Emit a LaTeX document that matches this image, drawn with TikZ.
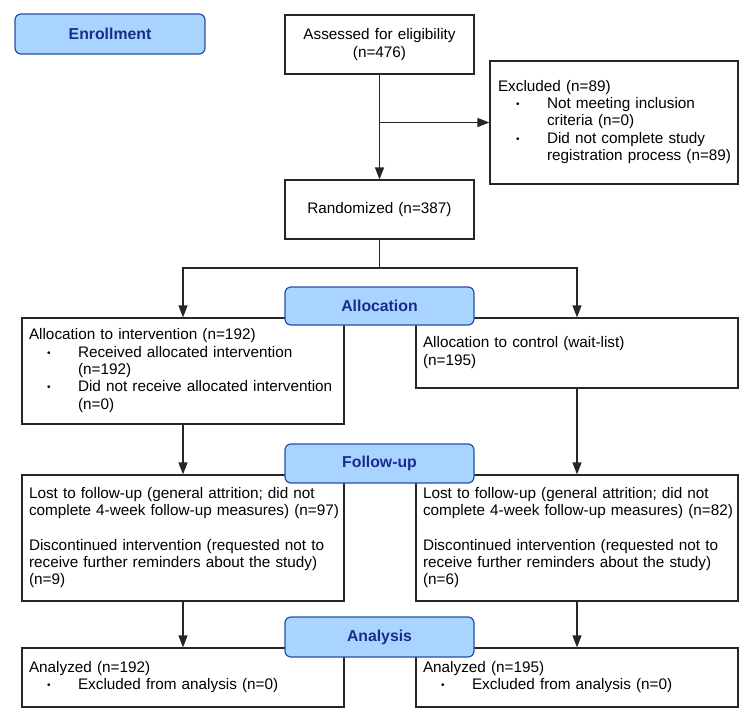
\documentclass[tikz,border=0pt]{standalone}
\usepackage{fontspec}
\setmainfont{Liberation Sans}
\usetikzlibrary{arrows.meta}

\definecolor{headfill}{RGB}{168,212,255}
\definecolor{headdraw}{RGB}{38,78,168}
\definecolor{headtext}{RGB}{28,44,140}

% bullet and hanging indent for the list lines
\newcommand{\bul}{\hspace*{18pt}\makebox[31pt][l]{\raisebox{1pt}{\fontsize{10}{10}\selectfont\textbullet}}}
\newcommand{\bulind}{\hspace*{49pt}}

\tikzset{
  txt/.style={font=\fontsize{15.3}{17.3}\selectfont},
  box/.style={txt, draw=black!85, line width=1.2pt, inner xsep=7pt, inner ysep=0pt, align=left},
  stage/.style={draw=headdraw, fill=headfill, line width=1.2pt, rounded corners=6pt,
    text=headtext, font=\fontsize{15.8}{18}\selectfont\bfseries,
    minimum width=189pt, minimum height=39pt, inner sep=0pt},
  link/.style={draw=black!85, line width=1.2pt},
}

\begin{document}
\begin{tikzpicture}[x=1pt,y=-1pt,>={Triangle[length=12pt,width=9pt]}]
  \useasboundingbox (0,0) rectangle (754,723);

  % Enrollment
  \node[stage, minimum width=190pt, minimum height=40pt] (enroll) at (110,34) {Enrollment};
  \node[box, align=center, text width=175pt, minimum height=59pt] (assess) at (379.5,44.5)
    {Assessed for eligibility\\(n=476)};
  \node[box, inner xsep=8pt, text width=232pt, minimum height=123pt] (excl) at (614,122.5)
    {\begin{tabular}{@{}l@{}}
      Excluded (n=89)\\
      \bul Not meeting inclusion\\
      \bulind criteria (n=0)\\
      \bul Did not complete study\\
      \bulind registration process (n=89)
    \end{tabular}};
  \node[box, align=center, text width=175pt, minimum height=59pt] (rand) at (379.5,209.5)
    {Randomized (n=387)};

  % Allocation
  \node[box, text width=308pt, minimum height=106pt] (intv) at (183,371)
    {\begin{tabular}{@{}l@{}}
      Allocation to intervention (n=192)\\
      \bul Received allocated intervention\\
      \bulind (n=192)\\
      \bul Did not receive allocated intervention\\
      \bulind (n=0)
    \end{tabular}};
  \node[box, text width=308pt, minimum height=70pt] (ctrl) at (577,353)
    {\begin{tabular}{@{}l@{}}
      Allocation to control (wait-list)\\
      (n=195)
    \end{tabular}};

  % Follow-up
  \node[box, text width=308pt, minimum height=126pt] (lostA) at (183,538)
    {\begin{tabular}{@{}l@{}}
      Lost to follow-up (general attrition; did not\\
      complete 4-week follow-up measures) (n=97)\\[17.3pt]
      Discontinued intervention (requested not to\\
      receive further reminders about the study)\\
      (n=9)
    \end{tabular}};
  \node[box, text width=308pt, minimum height=126pt] (lostB) at (577,538)
    {\begin{tabular}{@{}l@{}}
      Lost to follow-up (general attrition; did not\\
      complete 4-week follow-up measures) (n=82)\\[17.3pt]
      Discontinued intervention (requested not to\\
      receive further reminders about the study)\\
      (n=6)
    \end{tabular}};

  % Analysis
  \node[box, text width=308pt, minimum height=59pt] (anaA) at (183,677.5)
    {\begin{tabular}{@{}l@{}}
      Analyzed (n=192)\\
      \bul Excluded from analysis (n=0)
    \end{tabular}};
  \node[box, text width=308pt, minimum height=59pt] (anaB) at (577,677.5)
    {\begin{tabular}{@{}l@{}}
      Analyzed (n=195)\\
      \bul Excluded from analysis (n=0)
    \end{tabular}};

  % Connectors
  \coordinate (split) at (379.5,268);
  \draw[link,->] (assess.south) -- (rand.north);
  \draw[link,->] (assess.south |- excl.west) -- (excl.west);
  \draw[link] (rand.south) -- (split);
  \draw[link,->] (split) -| (intv.north);
  \draw[link,->] (split) -| (ctrl.north);
  \draw[link,->] (intv.south) -- (lostA.north);
  \draw[link,->] (ctrl.south) -- (lostB.north);
  \draw[link,->] (lostA.south) -- (anaA.north);
  \draw[link,->] (lostB.south) -- (anaB.north);

  % Stage labels on top
  \node[stage, minimum height=38pt] (alloc) at (379.5,306) {Allocation};
  \node[stage] (follow) at (379.5,463.5) {Follow-up};
  \node[stage, minimum height=40pt] (analysis) at (379.5,637) {Analysis};
\end{tikzpicture}
\end{document}
